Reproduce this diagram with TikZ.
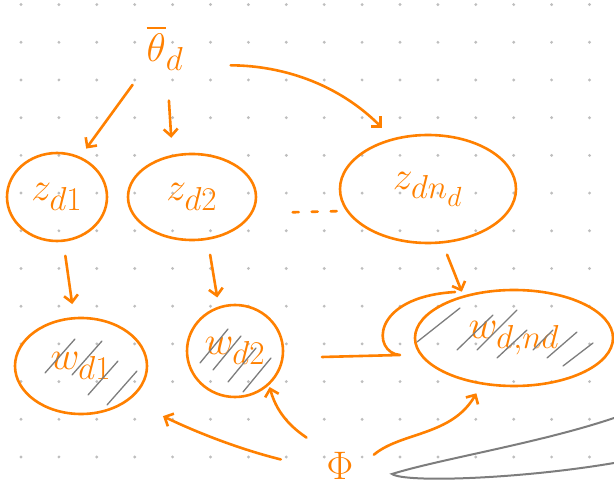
\documentclass[tikz,border=0pt]{standalone}
\usepackage{amssymb,graphicx}
\usetikzlibrary{shapes.geometric,arrows.meta,calc}
\definecolor{penorange}{RGB}{255,128,0}
\definecolor{hatchgray}{RGB}{125,125,125}
\definecolor{dotgray}{RGB}{190,190,190}
\newcommand{\sketchtxt}[1]{\scalebox{1.6}{\Huge$#1$}}

\begin{document}
\begin{tikzpicture}[x=1pt,y=1pt, pen/.style={draw=penorange,line width=2.6pt,line cap=round,line join=round}, var/.style={ellipse,pen,inner sep=0pt,text=penorange}, lbl/.style={text=penorange,inner sep=2pt}, arr/.style={pen,-{Straight Barb[length=7pt,width=14pt]}}, hatch/.style={draw=hatchgray,line width=1.3pt,line cap=round}, graypen/.style={draw=hatchgray,line width=2pt,line cap=round}]
\useasboundingbox (0,0) rectangle (614,493);
\foreach \i in {0,...,15}
    \foreach \j in {0,...,12}
        \fill[dotgray] (21+37.9*\i,488.4-37.7*\j) circle (1.6pt);

\node[lbl] (theta) at (165,445) {\sketchtxt{\overline{\vphantom{l}\theta}_d}};
\node[var,minimum width=100pt,minimum height=88pt] (zd1) at (57,296) {\sketchtxt{z_{d1}}};
\node[var,minimum width=128pt,minimum height=86pt] (zd2) at (192,296) {\sketchtxt{z_{d2}}};
\node[var,minimum width=176pt,minimum height=108pt] (zdnd) at (428,304) {\sketchtxt{z_{dn_d}}};
\node[var,minimum width=132pt,minimum height=96pt] (wd1) at (81,127) {\sketchtxt{w_{d1}}};
\node[var,minimum width=96pt,minimum height=92pt] (wd2) at (235,142) {\sketchtxt{w_{d2}}};
\node[var,minimum width=198pt,minimum height=96pt] (wdnd) at (514,155) {\sketchtxt{w_{d,nd}}};
\node[lbl] (phi) at (340,27) {\sketchtxt{\Phi}};

\draw[arr,shorten <=20pt,shorten >=10pt] (theta.-135) -- (zd1.60);
\draw[arr,shorten <=28pt,shorten >=17pt] (theta.-85) -- (zd2.115);
\draw[arr,shorten <=45pt,shorten >=15pt] (theta.-40) to[out=0,in=135] (zdnd.125);
\draw[pen,dash pattern=on 6pt off 13pt,shorten <=40pt] (zd2.-15) -- (zdnd.-165);

\draw[arr,shorten <=14pt,shorten >=13pt] (zd1) -- (wd1);
\draw[arr,shorten <=15pt,shorten >=9pt] (zd2.-70) -- (wd2.110);
\draw[arr,shorten <=12pt,shorten >=4pt] (zdnd.-75) -- (wdnd.140);

\draw[arr,shorten <=45pt,shorten >=37pt] (phi.-165) to[bend left=6] (wd1.-35);
\draw[arr,shorten <=22pt,shorten >=2pt] (phi.north west) to[out=145,in=-75] (wd2.-45);
\draw[arr,shorten <=24pt,shorten >=10pt] (phi.-15) to[out=40,in=-120] (wdnd.-125);

\coordinate (wlink) at (322,136);
\draw[pen] (wlink) -- (400,138) .. controls (372,140) and (370,196) .. (455,201);

\foreach \a/\b in {-36/-7,-9/-9,7/-29,26/-39}
    \draw[hatch] ($(wd1)+(\a,\b)$) -- ++(30,34);
\foreach \a/\b in {-35/-12,-22/-19,-7/-31,8/-41}
    \draw[hatch] ($(wd2)+(\a,\b)$) -- ++(28,34);
\foreach \a/\b/\c/\d in {-97/-4/43/34,-57/-12/36/35,-37/-12/40/40,-17/-20/30/28,19/-12/20/20,33/-20/30/26,49/-28/30/23}
    \draw[hatch] ($(wdnd)+(\a,\b)$) -- ++(\c,\d);

\draw[graypen] (614,75) .. controls (540,50) and (440,34) .. (392,19) .. controls (405,10) and (520,14) .. (614,30);
\end{tikzpicture}
\end{document}
